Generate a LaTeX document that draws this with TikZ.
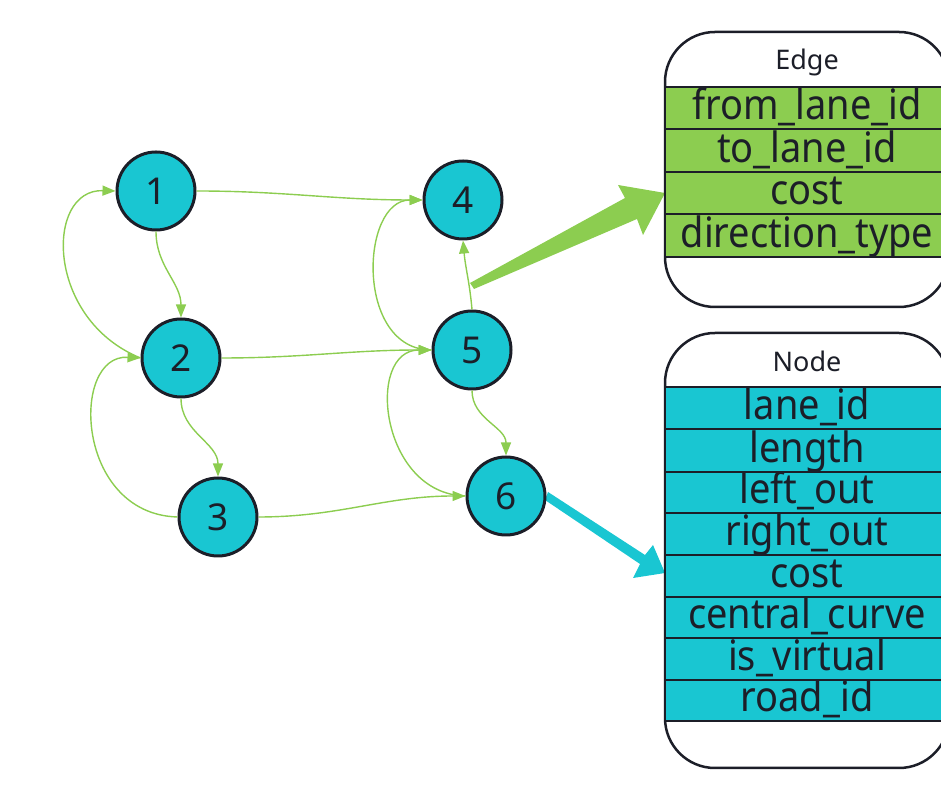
\documentclass[tikz,border=0pt]{standalone}
\usepackage{fontspec}
\setmainfont{Noto Sans}
\usetikzlibrary{arrows.meta}
\definecolor{lgreen}{RGB}{140,205,80}
\definecolor{ecyan}{RGB}{25,198,210}
\definecolor{dark}{RGB}{28,30,40}
\begin{document}
\begin{tikzpicture}[x=1pt,y=1pt,
  circ/.style={circle, fill=ecyan, draw=dark, line width=3pt, minimum size=78pt, inner sep=0pt, text=dark, font=\fontsize{37}{40}\selectfont},
  edge/.style={draw=lgreen, line width=1.4pt, -{Triangle[length=13pt,width=10pt]}},
  rowtext/.style={anchor=base, inner sep=0pt, text=dark, font=\fontsize{38}{40}\selectfont, yscale=1.1, transform shape},
  headtext/.style={anchor=base, inner sep=0pt, text=dark, font=\fontsize{27}{30}\selectfont},
  rowbox/.style={draw=dark, line width=2.5pt},
  tablebox/.style={draw=dark, fill=white, line width=2.5pt, rounded corners=50pt},
]
\useasboundingbox (0,0) rectangle (941,794);

% big arrows
\fill[lgreen] (470,511) -- (625,596) -- (618,609) -- (665,601) -- (643,559) -- (637,575) -- (474,505) -- cycle;
\fill[ecyan] (548,302) -- (645,239) -- (653,249) -- (665,221) -- (633,216) -- (640,230) -- (545,294) -- cycle;

% graph nodes
\node[circ] (n1) at (156,603) {1};
\node[circ] (n2) at (181,436) {2};
\node[circ] (n3) at (218,277) {3};
\node[circ] (n4) at (463,594) {4};
\node[circ] (n5) at (472,444) {5};
\node[circ] (n6) at (506,298) {6};

% connectors
\draw[edge] (n1.east) to[out=0,in=180] (n4.west);
\draw[edge] (n2.east) to[out=0,in=180] (n5.west);
\draw[edge] (n3.east) to[out=0,in=180] (n6.west);
\draw[edge] (n1.south) to[out=-90,in=90] (n2.north);
\draw[edge] (n2.south) to[out=-90,in=90] (n3.north);
\draw[edge] (n5.south) to[out=-90,in=90] (n6.north);
\draw[edge] (n5.north) to[out=95,in=-85] (n4.south);
\draw[edge] (n2.west) .. controls (45,475) and (45,605) .. (n1.west);
\draw[edge] (n3.west) .. controls (75,280) and (70,440) .. (n2.west);
\draw[edge] (n5.west) .. controls (355,444) and (360,594) .. (n4.west);
\draw[edge] (n6.west) .. controls (380,300) and (365,444) .. (n5.west);

% Edge table
\draw[tablebox] (665,487) rectangle (949,762);
\foreach \yb/\yt in {665/707,622/665,580/622,537/580}
  \draw[rowbox, fill=lgreen] (665,\yb) rectangle (949,\yt);
\node[headtext] (eh) at (807,724) {Edge};
\node[rowtext] (e1) at (807,674) {from\_lane\_id};
\node[rowtext] (e2) at (807,631) {to\_lane\_id};
\node[rowtext] (e3) at (807,589) {cost};
\node[rowtext] (e4) at (807,546) {direction\_type};

% Node table
\draw[tablebox] (665,26) rectangle (949,461);
\foreach \yb/\yt in {365/407,322/365,281/322,239/281,197/239,156/197,114/156,73/114}
  \draw[rowbox, fill=ecyan] (665,\yb) rectangle (949,\yt);
\node[headtext] (nh) at (807,422) {Node};
\node[rowtext] (r1) at (807,374) {lane\_id};
\node[rowtext] (r2) at (807,331) {length};
\node[rowtext] (r3) at (807,290) {left\_out};
\node[rowtext] (r4) at (807,248) {right\_out};
\node[rowtext] (r5) at (807,206) {cost};
\node[rowtext] (r6) at (807,165) {central\_curve};
\node[rowtext] (r7) at (807,123) {is\_virtual};
\node[rowtext] (r8) at (807,82) {road\_id};
\end{tikzpicture}
\end{document}
